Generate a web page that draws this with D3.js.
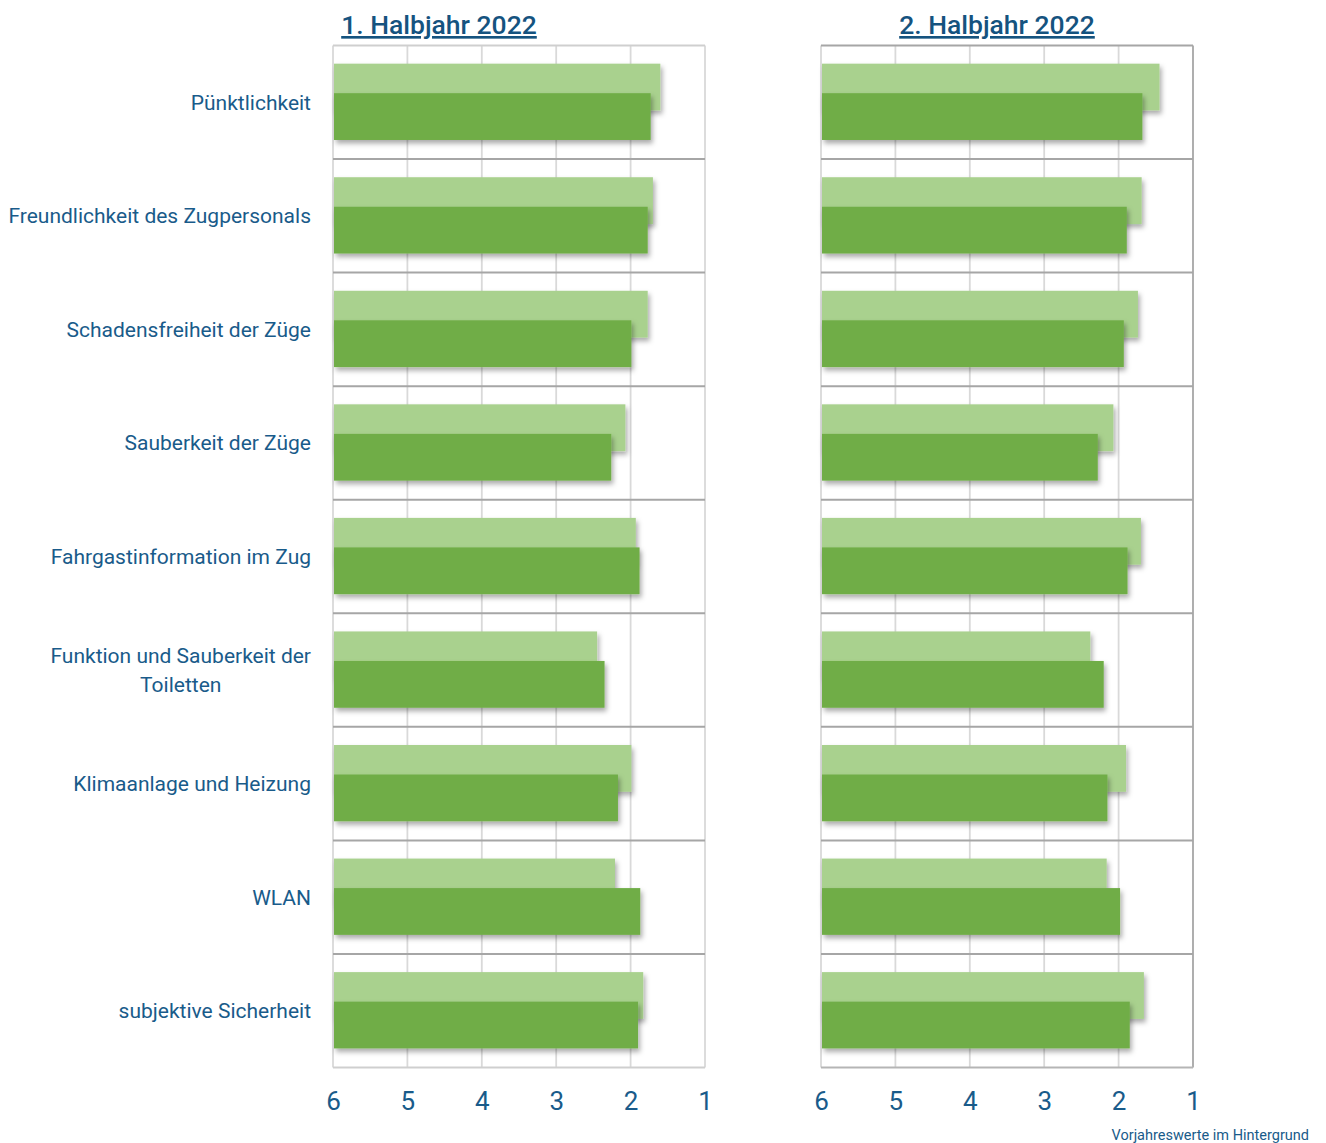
<!DOCTYPE html>
<html>
<head>
<meta charset="utf-8">
<script src="https://cdn.jsdelivr.net/npm/d3@7"></script>
<style>
  body { margin: 0; background: #fff; }
  svg { display: block; font-family: Roboto, "Noto Sans", sans-serif; }
</style>
</head>
<body>
<div id="chart"></div>
<script>
// categories (top to bottom)
var categories = [
  "Pünktlichkeit",
  "Freundlichkeit des Zugpersonals",
  "Schadensfreiheit der Züge",
  "Sauberkeit der Züge",
  "Fahrgastinformation im Zug",
  "Funktion und Sauberkeit der|Toiletten",
  "Klimaanlage und Heizung",
  "WLAN",
  "subjektive Sicherheit"
];

// school grades, 1 = best
var h1Current  = [1.73, 1.77, 1.99, 2.26, 1.88, 2.35, 2.17, 1.87, 1.90];
var h1Previous = [1.60, 1.70, 1.77, 2.07, 1.93, 2.45, 1.99, 2.21, 1.83];
var h2Current  = [1.68, 1.89, 1.93, 2.28, 1.88, 2.20, 2.15, 1.98, 1.85];
var h2Previous = [1.45, 1.69, 1.74, 2.07, 1.70, 2.38, 1.90, 2.16, 1.66];

var tickValues = [6, 5, 4, 3, 2, 1];
var panelTitles = ["1. Halbjahr 2022", "2. Halbjahr 2022"];
var footnote = "Vorjahreswerte im Hintergrund";

var panels = [
  {title: panelTitles[0], current: h1Current, previous: h1Previous, left: 333, titleX: 439, frame: "#d9d9d9"},
  {title: panelTitles[1], current: h2Current, previous: h2Previous, left: 821, titleX: 997, frame: "#a6a6a6"}
];

var textColor = "#195b8a";
var plotTop = 45.5, plotH = 1022, plotW = 372;

var svg = d3.select("#chart")
  .append("svg")
  .attr("width", 1326)
  .attr("height", 1143);

// drop shadow like the office chart
var defs = svg.append("defs");
var filter = defs.append("filter")
  .attr("id", "shadow")
  .attr("x", "-5%").attr("y", "-20%")
  .attr("width", "115%").attr("height", "160%");
filter.append("feDropShadow")
  .attr("dx", 2).attr("dy", 3.5)
  .attr("stdDeviation", 2.5)
  .attr("flood-color", "#000")
  .attr("flood-opacity", 0.33);

var x = d3.scaleLinear()
  .domain([6, 1])
  .range([0, plotW]);

var y = d3.scaleBand()
  .domain(categories)
  .range([plotTop, plotTop + plotH])
  .padding(0);

var bw = y.bandwidth();
var barH = bw * 0.412;

// category labels on the left
var labels = svg.append("g");
categories.forEach(function(c) {
  var lines = c.split("|");
  var cy = y(c) + bw / 2;
  if (lines.length == 1) {
    labels.append("text")
      .attr("x", 311)
      .attr("y", cy)
      .attr("dy", "0.35em")
      .attr("text-anchor", "end")
      .attr("fill", textColor)
      .style("font-size", "21px")
      .text(lines[0]);
  } else {
    var t = labels.append("text")
      .attr("x", 311)
      .attr("y", cy - 14.5)
      .attr("dy", "0.35em")
      .attr("text-anchor", "end")
      .attr("fill", textColor)
      .style("font-size", "21px")
      .text(lines[0]);
    var w = t.node().getComputedTextLength();
    labels.append("text")
      .attr("x", 311 - w / 2)
      .attr("y", cy + 14.5)
      .attr("dy", "0.35em")
      .attr("text-anchor", "middle")
      .attr("fill", textColor)
      .style("font-size", "21px")
      .text(lines[1]);
  }
});

panels.forEach(function(p, pi) {
  var g = svg.append("g")
    .attr("transform", "translate(" + p.left + ",0)");

  // vertical grid
  g.append("g")
    .selectAll("line")
    .data(tickValues)
    .enter()
    .append("line")
    .attr("x1", function(d) { return x(d); })
    .attr("x2", function(d) { return x(d); })
    .attr("y1", plotTop)
    .attr("y2", plotTop + plotH)
    .attr("stroke", function(d) { return (d == 1 ? p.frame : "#d9d9d9"); })
    .attr("stroke-width", 1.8);

  // row separators
  g.append("g")
    .selectAll("line")
    .data(categories.slice(1))
    .enter()
    .append("line")
    .attr("x1", 0)
    .attr("x2", plotW)
    .attr("y1", function(d) { return y(d); })
    .attr("y2", function(d) { return y(d); })
    .attr("stroke", "#a6a6a6")
    .attr("stroke-width", 2);

  // top and bottom border
  g.append("line")
    .attr("x1", 0).attr("x2", plotW)
    .attr("y1", plotTop).attr("y2", plotTop)
    .attr("stroke", pi == 0 ? "#cfcfcf" : "#a6a6a6")
    .attr("stroke-width", 2);
  g.append("line")
    .attr("x1", 0).attr("x2", plotW)
    .attr("y1", plotTop + plotH).attr("y2", plotTop + plotH)
    .attr("stroke", pi == 0 ? "#cfcfcf" : "#b5b5b5")
    .attr("stroke-width", 2);

  // previous year (background)
  g.append("g")
    .selectAll("rect")
    .data(p.previous)
    .enter()
    .append("rect")
    .attr("x", x(6) + 1)
    .attr("y", function(d, i) { return y(categories[i]) + bw * 0.16; })
    .attr("width", function(d) { return x(d) - x(6) - 1; })
    .attr("height", barH)
    .attr("fill", "#a9d18e")
    .attr("filter", "url(#shadow)");

  // current values
  g.append("g")
    .selectAll("rect")
    .data(p.current)
    .enter()
    .append("rect")
    .attr("x", x(6) + 1)
    .attr("y", function(d, i) { return y(categories[i]) + bw * 0.42; })
    .attr("width", function(d) { return x(d) - x(6) - 1; })
    .attr("height", barH)
    .attr("fill", "#70ad47")
    .attr("filter", "url(#shadow)");

  // x axis labels only
  var ax = g.append("g")
    .attr("transform", "translate(0," + (plotTop + plotH) + ")")
    .call(d3.axisBottom(x).tickValues(tickValues).tickSize(0).tickPadding(24).tickFormat(d3.format("d")));
  ax.select(".domain").remove();
  ax.selectAll("text")
    .attr("fill", textColor)
    .style("font-size", "26px")
    .style("font-family", "Roboto, sans-serif");

  // panel title
  svg.append("text")
    .attr("x", p.titleX)
    .attr("y", 34)
    .attr("text-anchor", "middle")
    .attr("fill", "#15537f")
    .style("font-size", "26.5px")
    .style("font-weight", "500")
    .style("text-decoration", "underline")
    .text(p.title);
});

svg.append("text")
  .attr("x", 1309)
  .attr("y", 1140)
  .attr("text-anchor", "end")
  .attr("fill", textColor)
  .style("font-size", "14.5px")
  .text(footnote);
</script>
</body>
</html>
